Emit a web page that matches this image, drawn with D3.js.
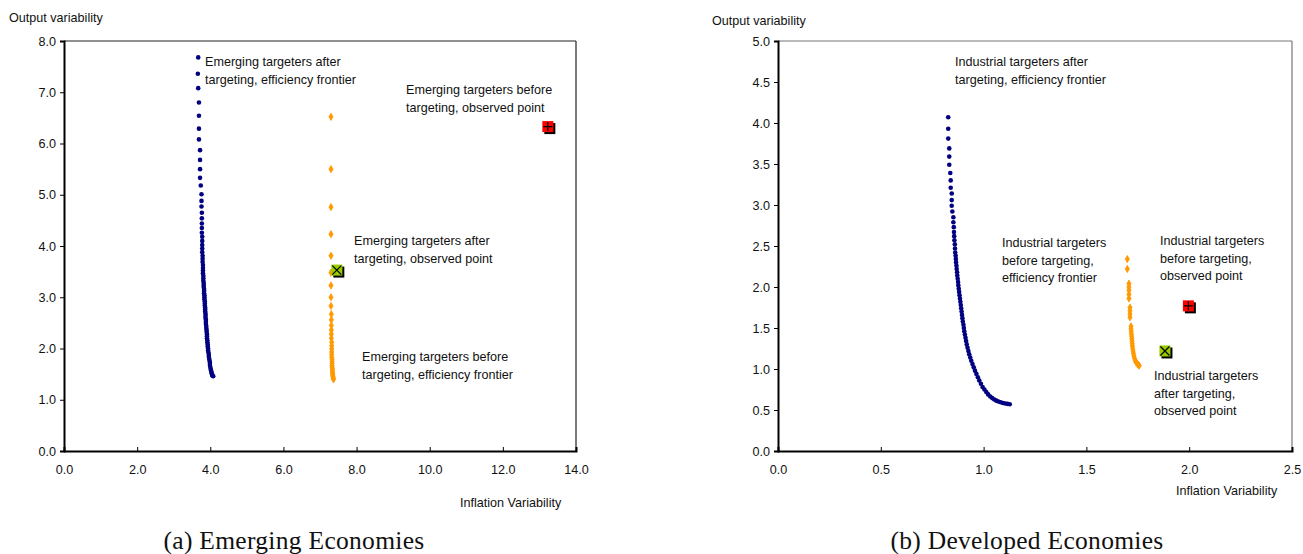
<!DOCTYPE html>
<html><head><meta charset="utf-8">
<script src="https://cdn.jsdelivr.net/npm/d3@7"></script>
<style>
body{margin:0;background:#fff}
svg{display:block}
text{font-family:"Liberation Sans",Arial,sans-serif;fill:#111}
</style>
</head><body>
<svg id="c" width="1303" height="554"></svg>
<script>
// ---------- DATA ----------
const emergingXTicks = [0, 2, 4, 6, 8, 10, 12, 14];
const emergingYTicks = [0, 1, 2, 3, 4, 5, 6, 7, 8];
const developedXTicks = [0, 0.5, 1, 1.5, 2, 2.5];
const developedYTicks = [0, 0.5, 1, 1.5, 2, 2.5, 3, 3.5, 4, 4.5, 5];

// Emerging targeters after targeting, efficiency frontier [inflation var, output var]
const emergingAfterFrontier = [
 [3.67,7.68],[3.66,7.36],[3.67,7.08],[3.69,6.80],[3.69,6.54],[3.69,6.29],[3.69,6.08],
 [3.72,5.87],[3.72,5.68],[3.72,5.50],[3.72,5.33],[3.74,5.18],[3.76,5.01],[3.76,4.88],
 [3.76,4.77],[3.77,4.65],[3.77,4.54],[3.77,4.44],[3.77,4.35],[3.77,4.26],[3.78,4.18],
 [3.78,4.10],[3.78,4.02],[3.78,3.95],[3.78,3.88],[3.79,3.81],[3.79,3.75],[3.79,3.69],
 [3.80,3.63],[3.80,3.57],[3.80,3.52],[3.80,3.47],[3.81,3.42],[3.81,3.37],[3.81,3.32],
 [3.82,3.28],[3.82,3.24],[3.82,3.20],[3.83,3.16],[3.83,3.12],[3.83,3.08],[3.84,3.04],
 [3.84,3.00],[3.84,2.96],[3.85,2.92],[3.85,2.88],[3.85,2.84],[3.86,2.80],[3.86,2.76],
 [3.86,2.72],[3.87,2.68],[3.87,2.64],[3.87,2.60],[3.88,2.56],[3.88,2.52],[3.88,2.48],
 [3.89,2.44],[3.89,2.40],[3.90,2.36],[3.90,2.32],[3.91,2.28],[3.91,2.24],[3.91,2.20],
 [3.92,2.16],[3.92,2.12],[3.93,2.08],[3.93,2.04],[3.94,2.00],[3.94,1.96],[3.95,1.92],
 [3.96,1.88],[3.96,1.84],[3.97,1.80],[3.98,1.76],[3.99,1.72],[3.99,1.68],[4.00,1.64],
 [4.01,1.60],[4.02,1.57],[4.03,1.54],[4.04,1.51],[4.05,1.49],[4.06,1.47],[4.08,1.46]
];
// Emerging targeters before targeting, efficiency frontier
const emergingBeforeFrontier = [
 [7.30,6.52],[7.30,5.50],[7.30,4.76],[7.30,4.23],[7.30,3.81],[7.30,3.48],[7.30,3.23],
 [7.30,3.00],[7.30,2.83],[7.31,2.67],[7.31,2.56],[7.31,2.45],[7.31,2.36],[7.31,2.28],
 [7.31,2.20],[7.32,2.12],[7.32,2.05],[7.32,1.99],[7.32,1.93],[7.32,1.88],[7.32,1.83],
 [7.33,1.79],[7.33,1.75],[7.33,1.71],[7.33,1.67],[7.33,1.64],[7.34,1.61],[7.34,1.58],
 [7.34,1.55],[7.34,1.52],[7.35,1.50],[7.35,1.48],[7.35,1.46],[7.36,1.44],[7.36,1.42],[7.37,1.40]
];
const emergingBeforeObserved = [13.23, 6.33];
const emergingAfterObserved = [7.46, 3.53];

// Industrial (developed) targeters after targeting, efficiency frontier
const developedAfterFrontier = [
 [0.828,4.07],[0.828,3.93],[0.828,3.81],[0.833,3.69],[0.833,3.59],[0.833,3.49],[0.838,3.39],
 [0.840,3.30],[0.840,3.21],[0.845,3.14],[0.845,3.06],[0.845,2.99],[0.848,2.92],[0.853,2.85],
 [0.853,2.79],[0.855,2.73],[0.856,2.67],[0.857,2.62],[0.858,2.57],[0.860,2.52],[0.861,2.47],
 [0.862,2.42],[0.864,2.38],[0.865,2.34],[0.866,2.30],[0.868,2.26],[0.869,2.22],[0.871,2.18],
 [0.872,2.14],[0.874,2.10],[0.876,2.06],[0.877,2.02],[0.879,1.98],[0.881,1.94],[0.883,1.90],
 [0.885,1.86],[0.887,1.82],[0.889,1.78],[0.891,1.74],[0.893,1.70],[0.895,1.66],[0.897,1.62],
 [0.899,1.58],[0.902,1.54],[0.904,1.50],[0.906,1.46],[0.909,1.42],[0.912,1.38],[0.915,1.34],
 [0.918,1.30],[0.922,1.26],[0.926,1.22],[0.930,1.18],[0.935,1.14],[0.940,1.10],[0.946,1.06],
 [0.952,1.02],[0.958,0.98],[0.965,0.94],[0.972,0.90],[0.979,0.86],[0.987,0.82],[0.995,0.78],
 [1.004,0.75],[1.013,0.72],[1.022,0.69],[1.032,0.665],[1.042,0.645],[1.052,0.628],[1.062,0.614],
 [1.072,0.603],[1.083,0.594],[1.094,0.586],[1.105,0.580],[1.116,0.575],[1.127,0.571]
];
// Industrial targeters before targeting, efficiency frontier
const developedBeforeFrontier = [
 [1.699,2.34],[1.699,2.22],[1.707,2.04],[1.707,2.00],[1.707,1.96],[1.707,1.91],[1.707,1.86],
 [1.712,1.75],[1.712,1.71],[1.712,1.67],[1.712,1.63],[1.717,1.52],[1.717,1.49],[1.718,1.46],
 [1.719,1.43],[1.720,1.40],[1.721,1.37],[1.722,1.34],[1.723,1.31],[1.724,1.28],[1.725,1.25],
 [1.727,1.22],[1.729,1.19],[1.731,1.16],[1.734,1.13],[1.738,1.10],[1.743,1.08],[1.748,1.06],
 [1.753,1.05],[1.757,1.04]
];
const developedBeforeObserved = [1.996, 1.77];
const developedAfterObserved = [1.882, 1.22];

// ---------- DRAW ----------
const svg = d3.select("#c");
const BLUE = "#000080", ORANGE = "#FF9900", RED = "#FF0000", GREEN = "#99CC00";
const FS = 12.6;

function panel(cfg){
  const g = svg.append("g");
  const x = d3.scaleLinear().domain(cfg.xDomain).range([cfg.left, cfg.right]);
  const y = d3.scaleLinear().domain(cfg.yDomain).range([cfg.bottom, cfg.top]);

  // top & right frame
  g.append("line").attr("x1", cfg.left).attr("x2", cfg.right).attr("y1", cfg.top).attr("y2", cfg.top)
    .attr("stroke", cfg.frameColor).attr("stroke-width", 1.2);
  g.append("line").attr("x1", cfg.right).attr("x2", cfg.right).attr("y1", cfg.top).attr("y2", cfg.bottom)
    .attr("stroke", cfg.frameColor).attr("stroke-width", 1.2);

  const xAxis = d3.axisBottom(x).tickValues(cfg.xTicks).tickFormat(d3.format(".1f")).tickSize(-4).tickPadding(14);
  const yAxis = d3.axisLeft(y).tickValues(cfg.yTicks).tickFormat(d3.format(".1f")).tickSize(4).tickPadding(4);
  const gx = g.append("g").attr("transform", `translate(0,${cfg.bottom})`).call(xAxis);
  const gy = g.append("g").attr("transform", `translate(${cfg.left},0)`).call(yAxis);
  [gx, gy].forEach(a => {
    a.select(".domain").attr("stroke", "#000").attr("stroke-width", 2);
    a.selectAll(".tick line").attr("stroke", "#000").attr("stroke-width", 1);
    a.selectAll(".tick text").attr("font-size", FS).attr("fill", "#111")
      .attr("font-family", "Liberation Sans, Arial, sans-serif");
  });

  // frontier series
  g.append("g").selectAll("circle").data(cfg.afterFrontier).join("circle")
    .attr("cx", d => x(d[0])).attr("cy", d => y(d[1])).attr("r", 2.3).attr("fill", BLUE);
  g.append("g").selectAll("path").data(cfg.beforeFrontier).join("path")
    .attr("transform", d => `translate(${x(d[0])},${y(d[1])})`)
    .attr("d", d3.symbol(d3.symbolDiamond, 15)).attr("fill", ORANGE)
    .attr("stroke", ORANGE).attr("stroke-width", 0.8).attr("stroke-linejoin", "round");

  // observed points (square markers with shadow)
  function square(pt, color, kind){
    const cx = x(pt[0]), cy = y(pt[1]), s = 11;
    g.append("rect").attr("x", cx - s/2 + 2).attr("y", cy - s/2 + 2).attr("width", s).attr("height", s).attr("fill", "#000");
    g.append("rect").attr("x", cx - s/2).attr("y", cy - s/2).attr("width", s).attr("height", s).attr("fill", color);
    const h = 4.5;
    if (kind === "plus") {
      g.append("path").attr("d", `M${cx-h},${cy}H${cx+h}M${cx},${cy-h}V${cy+h}`).attr("stroke", "#000").attr("stroke-width", 1.3);
    } else {
      g.append("path").attr("d", `M${cx-h},${cy-h}L${cx+h},${cy+h}M${cx+h},${cy-h}L${cx-h},${cy+h}`).attr("stroke", "#000").attr("stroke-width", 1.2);
    }
  }
  square(cfg.beforeObserved, RED, "plus");
  square(cfg.afterObserved, GREEN, "cross");

  // axis titles
  g.append("text").attr("x", cfg.yTitle[0]).attr("y", cfg.yTitle[1]).attr("font-size", FS).text("Output variability");
  g.append("text").attr("x", cfg.xTitle[0]).attr("y", cfg.xTitle[1]).attr("font-size", FS).text("Inflation Variability");

  // annotations
  cfg.notes.forEach(n => {
    const t = g.append("text").attr("font-size", FS);
    n.lines.forEach((l, i) => t.append("tspan").attr("x", n.x).attr("y", n.y + i * n.lh).text(l));
  });

  // caption
  svg.append("text").attr("x", cfg.caption[0]).attr("y", cfg.caption[1]).attr("text-anchor", "middle")
    .attr("font-size", 25.5).style("letter-spacing", "0.3px")
    .style("font-family", "'Liberation Serif','DejaVu Serif',serif").text(cfg.caption[2]);
}

panel({
  left: 64, right: 576, top: 41, bottom: 451,
  xDomain: [0, 14], yDomain: [0, 8], xTicks: emergingXTicks, yTicks: emergingYTicks,
  frameColor: "#222",
  afterFrontier: emergingAfterFrontier, beforeFrontier: emergingBeforeFrontier,
  beforeObserved: emergingBeforeObserved, afterObserved: emergingAfterObserved,
  yTitle: [9, 22], xTitle: [460, 507],
  notes: [
    {x: 205, y: 66, lh: 17.5, lines: ["Emerging targeters after", "targeting, efficiency frontier"]},
    {x: 406, y: 94, lh: 17.5, lines: ["Emerging targeters before", "targeting, observed point"]},
    {x: 354, y: 245, lh: 17.5, lines: ["Emerging targeters after", "targeting, observed point"]},
    {x: 362, y: 361, lh: 17.5, lines: ["Emerging targeters before", "targeting, efficiency frontier"]}
  ],
  caption: [294, 549, "(a) Emerging Economies"]
});

panel({
  left: 778, right: 1292, top: 41, bottom: 451,
  xDomain: [0, 2.5], yDomain: [0, 5], xTicks: developedXTicks, yTicks: developedYTicks,
  frameColor: "#777",
  afterFrontier: developedAfterFrontier, beforeFrontier: developedBeforeFrontier,
  beforeObserved: developedBeforeObserved, afterObserved: developedAfterObserved,
  yTitle: [712, 25], xTitle: [1176, 495],
  notes: [
    {x: 955, y: 66, lh: 17.5, lines: ["Industrial targeters after", "targeting, efficiency frontier"]},
    {x: 1002, y: 247, lh: 17.5, lines: ["Industrial targeters", "before targeting,", "efficiency frontier"]},
    {x: 1160, y: 245, lh: 17.5, lines: ["Industrial targeters", "before targeting,", "observed point"]},
    {x: 1154, y: 380, lh: 17.7, lines: ["Industrial targeters", "after targeting,", "observed point"]}
  ],
  caption: [1027, 549, "(b) Developed Economies"]
});
</script>
</body></html>
